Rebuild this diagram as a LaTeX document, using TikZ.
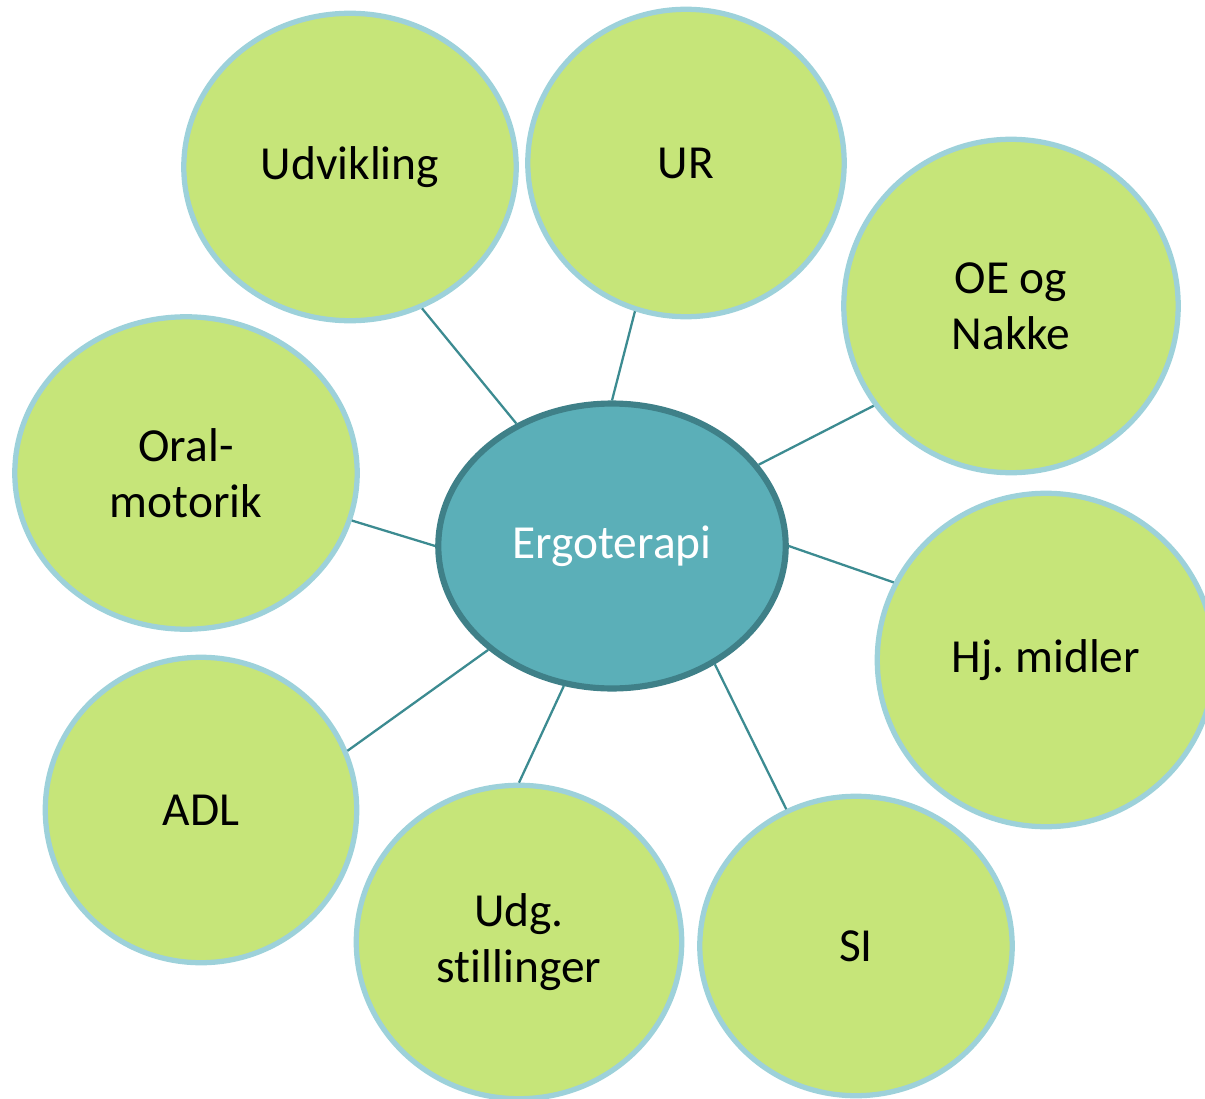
\documentclass[tikz,border=0pt]{standalone}
\usepackage{fontspec}
\setmainfont{Carlito}[Ligatures=NoCommon]
\usepackage{xcolor}
\usetikzlibrary{positioning,shapes.geometric}

\definecolor{leafgreen}{HTML}{C6E579}
\definecolor{leafedge}{HTML}{9DD1DA}
\definecolor{hubfill}{HTML}{5BAFB8}
\definecolor{hubedge}{HTML}{3F8088}
\definecolor{linkcol}{HTML}{3C8B91}

\begin{document}
\begin{tikzpicture}[
  x=0.02cm, y=-0.02cm,
  leaf/.style={ellipse, draw=leafedge, line width=3pt, fill=leafgreen, align=center, inner sep=0pt, font=\fontsize{27}{32}\selectfont},
  hub/.style={ellipse, draw=hubedge, line width=3.5pt, fill=hubfill, align=center, inner sep=0pt, text=white, font=\fontsize{27}{32}\selectfont},
  link/.style={draw=linkcol, line width=1.3pt}
]
\useasboundingbox (0,0) rectangle (1205,1099);

% Centre
\node[hub, minimum width=6.95cm, minimum height=5.7cm] (ergo) at (612,546) {Ergoterapi};

% Top row
\node[leaf, minimum width=6.65cm, minimum height=6.15cm] (udv) at (350,167) {Udvikling};
\node[leaf, minimum width=6.33cm, minimum height=6.15cm] (ur) at (686,163) {UR};
\node[leaf, minimum width=6.69cm, minimum height=6.67cm] (oe) at (1011,306) {OE og\\Nakke};

% Sides
\node[leaf, minimum width=6.85cm, minimum height=6.25cm] (oral) at (186,473) {Oral-\\motorik};
\node[leaf, minimum width=6.75cm, minimum height=6.67cm] (hj) at (1046,660) {Hj.\ midler};

% Bottom row
\node[leaf, minimum width=6.23cm, minimum height=6.11cm] (adl) at (201,810) {ADL};
\node[leaf, minimum width=6.51cm, minimum height=6.27cm] (udg) at (519,942) {Udg.\\stillinger};
\node[leaf, minimum width=6.25cm, minimum height=5.99cm] (si) at (856,946) {SI};

% Links
\draw[link] (udv.-63.6) -- (ergo.128);
\draw[link] (ur.-109.3) -- (ergo.90);
\draw[link] (oe.-144) -- (ergo.29.8);
\draw[link] (oral.-16.6) -- (ergo.180);
\draw[link] (hj.153.7) -- (ergo.0);
\draw[link] (adl.22.3) -- (ergo.-140);
\draw[link] (udg.90) -- (ergo.-109.7);
\draw[link] (si.117.2) -- (ergo.-49.5);

\end{tikzpicture}
\end{document}
